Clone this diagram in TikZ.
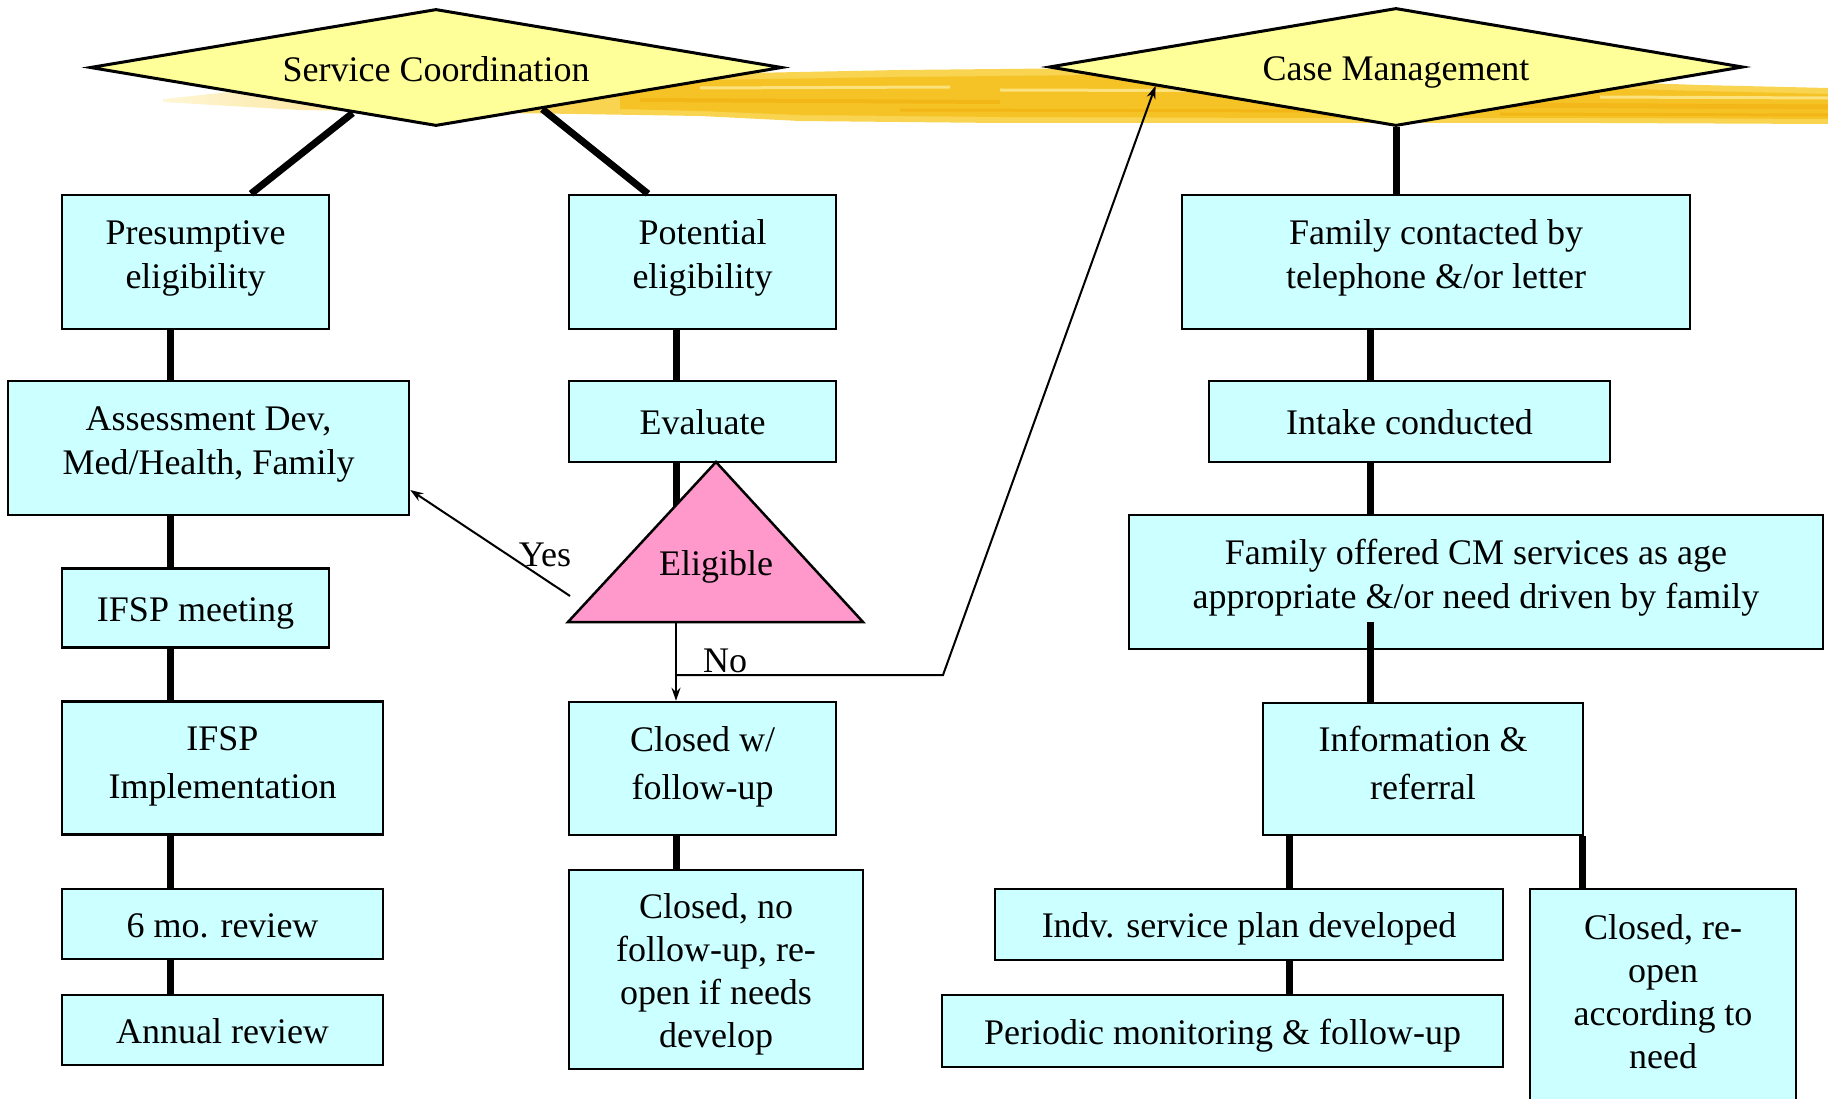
\documentclass[tikz,border=0pt]{standalone}
\usepackage{fontspec}
\setmainfont{Liberation Serif}
\usetikzlibrary{shapes.geometric,arrows.meta,calc}
\definecolor{boxc}{RGB}{204,255,255}
\definecolor{diac}{RGB}{255,255,153}
\definecolor{tric}{RGB}{255,153,204}
\definecolor{brushA}{RGB}{249,212,80}
\definecolor{brushB}{RGB}{246,195,38}
\definecolor{brushC}{RGB}{240,170,10}
\definecolor{brushL}{RGB}{252,226,125}
\definecolor{brushPale}{RGB}{254,246,214}
\newcommand{\tstrut}[1]{\rule{0pt}{#1pt}}
\newcommand{\bstrut}[1]{\rule[-#1pt]{0pt}{#1pt}}
\begin{document}
\begin{tikzpicture}[x=1pt,y=-1pt,
  txt/.style={font=\fontsize{36}{44}\selectfont, align=center, text=black},
  wide/.style={font=\fontsize{36}{48}\selectfont},
  tight/.style={font=\fontsize{36}{43}\selectfont},
  one/.style={text height=28pt, text depth=2pt},
  fbox/.style n args={2}{txt, draw=black, line width=2.5pt, fill=boxc, inner sep=0pt,
     minimum width=#1, minimum height=#2},
  dia/.style={txt, shape=diamond, draw=black, line width=3pt, fill=diac, inner sep=0pt,
     aspect=5.9, text height=29pt, text depth=1pt},
  link/.style={line width=7pt},
  arrowc/.style={line width=2pt, -{Stealth[length=13pt,width=9pt]}}]
\useasboundingbox (0,0) rectangle (1828,1099);

% brush stroke behind the titles
\shade[left color=brushPale, right color=brushA]
  (163,99) -- (230,92) -- (300,88) -- (500,80) -- (580,78) -- (580,114) -- (500,113) -- (300,110) -- (230,106) -- (163,102) -- cycle;
\fill[brushA]
  (575,78) -- (700,74) -- (900,70) -- (1100,68) -- (1300,71) -- (1500,78) -- (1700,85) -- (1828,88)
  -- (1828,124) -- (1600,123) -- (1300,123) -- (1000,123) -- (800,121) -- (700,116) -- (575,114) -- cycle;
\fill[brushB]
  (620,84) -- (700,80) -- (900,77) -- (1100,75) -- (1300,78) -- (1500,85) -- (1700,91) -- (1828,94)
  -- (1828,119) -- (1600,118) -- (1300,118) -- (1000,117) -- (800,115) -- (700,111) -- (620,109) -- cycle;
\draw[brushC, line width=4pt, opacity=.5] (640,100) -- (1000,102);
\draw[brushC, line width=3pt, opacity=.5] (900,110) -- (1350,111);
\draw[brushC, line width=5pt, opacity=.45] (1300,104) -- (1828,107);
\draw[brushL, line width=3pt] (1000,90) -- (1350,91);
\draw[brushL, line width=3pt] (700,88) -- (950,87);
\draw[brushC, line width=3pt, opacity=.5] (1500,114) -- (1828,115);
\draw[brushL, line width=3pt] (1600,97) -- (1828,98);

% title diamonds
\node[dia, minimum width=692pt, minimum height=117pt] (sc) at (436,67.5) {Service Coordination};
\node[dia, minimum width=694pt, minimum height=118pt] (cm) at (1396,67) {Case Management};

% boxes
\node[fbox={267pt}{134pt}] (pres) at (195.5,262) {\tstrut{26}Presumptive\\eligibility\bstrut{17}};
\node[fbox={267pt}{134pt}] (pot) at (702.5,262) {\tstrut{26}Potential\\eligibility\bstrut{17}};
\node[fbox={508pt}{134pt}] (famc) at (1436,262) {\tstrut{26}Family contacted by\\telephone \&/or letter\bstrut{17}};
\node[fbox={401pt}{134pt}] (assess) at (208.5,448) {\tstrut{26}Assessment Dev,\\Med/Health, Family\bstrut{18}};
\node[fbox={267pt}{81pt}, one] (eval) at (702.5,421.5) {Evaluate};
\node[fbox={401pt}{81pt}, one] (intake) at (1409.5,421.5) {Intake conducted};
\node[fbox={694pt}{134pt}] (offered) at (1476,582) {\tstrut{26}Family offered CM services as age\\appropriate \&/or need driven by family\bstrut{18}};
\node[fbox={267pt}{79pt}, one] (ifspm) at (195.5,608) {IFSP meeting};
\node[fbox={321pt}{133pt}, wide] (ifspi) at (222.5,768) {\tstrut{26}IFSP\\Implementation\bstrut{13}};
\node[fbox={321pt}{70pt}, one] (six) at (222.5,924) {6 mo. review};
\node[fbox={321pt}{70pt}, one] (annual) at (222.5,1030) {Annual review};
\node[fbox={267pt}{133pt}, wide] (closedw) at (702.5,768.5) {\tstrut{26}Closed w/\\follow-up\bstrut{13}};
\node[fbox={294pt}{199pt}, tight] (closedno) at (716,969.5) {\tstrut{35}Closed, no\\follow-up, re-\\open if needs\\develop\bstrut{8}};
\node[fbox={320pt}{132pt}, wide] (info) at (1423,769) {\tstrut{26}Information \&\\referral\bstrut{13}};
\node[fbox={508pt}{71pt}, one] (indv) at (1249,924.5) {Indv. service plan developed};
\node[fbox={561pt}{72pt}, one] (periodic) at (1222.5,1031) {Periodic monitoring \& follow-up};
\node[fbox={266pt}{216pt}, tight] (closedre) at (1663,997) {\tstrut{26}Closed, re-\\open\\according to\\need\bstrut{13}};

% column positions
\coordinate (lx) at (170,0);
\coordinate (mx) at (676,0);
\coordinate (rx) at (1370,0);
\coordinate (rx2) at (1289,0);

% thick connectors
\draw[link] ($(sc.west)!0.76!(sc.south)$) -- ([xshift=55.5pt]pres.north);
\draw[link] ($(sc.south)!0.306!(sc.east)$) -- ([xshift=-54.5pt]pot.north);
\draw[link] (cm.south) -- (cm.south |- famc.north);

\draw[link] (pres.south -| lx) -- (assess.north -| lx);
\draw[link] (assess.south -| lx) -- (ifspm.north -| lx);
\draw[link] (ifspm.south -| lx) -- (ifspi.north -| lx);
\draw[link] (ifspi.south -| lx) -- (six.north -| lx);
\draw[link] (six.south -| lx) -- (annual.north -| lx);

\draw[link] (pot.south -| mx) -- (eval.north -| mx);
\draw[link] (eval.south -| mx) -- ++(0,80);
\draw[link] (closedw.south -| mx) -- (closedno.north -| mx);

\draw[link] (famc.south -| rx) -- (intake.north -| rx);
\draw[link] (intake.south -| rx) -- (offered.north -| rx);
\draw[link] (info.north -| rx) -- ++(0,-80);
\draw[link] (info.south -| rx2) -- (indv.north -| rx2);
\draw[link] (indv.south -| rx2) -- (periodic.north -| rx2);
\draw[link] ([xshift=-2pt]info.south east) -- ([xshift=-2pt]info.south east |- closedre.north);

% decision triangle
\draw[line width=2.5pt, fill=tric, line join=miter] (568,622) -- (716,462) -- (863,622) -- cycle;
\node[txt] (elig) at (716,567) {Eligible};

% thin arrows
\coordinate (yesfrom) at (570,596);
\coordinate (nofrom) at (676,622);
\coordinate (nojoin) at (676,675);
\coordinate (nobend) at (943,675);
\draw[arrowc] (yesfrom) -- ([yshift=-42pt]assess.east);
\draw[arrowc] (nofrom) -- (closedw.north -| mx);
\draw[arrowc] (nojoin) -- (nobend) -- ($(cm.west)!0.31!(cm.south)$);
\node[txt] (yes) at (545,555) {Yes};
\node[txt] (no) at (725,661) {No};
\end{tikzpicture}
\end{document}
